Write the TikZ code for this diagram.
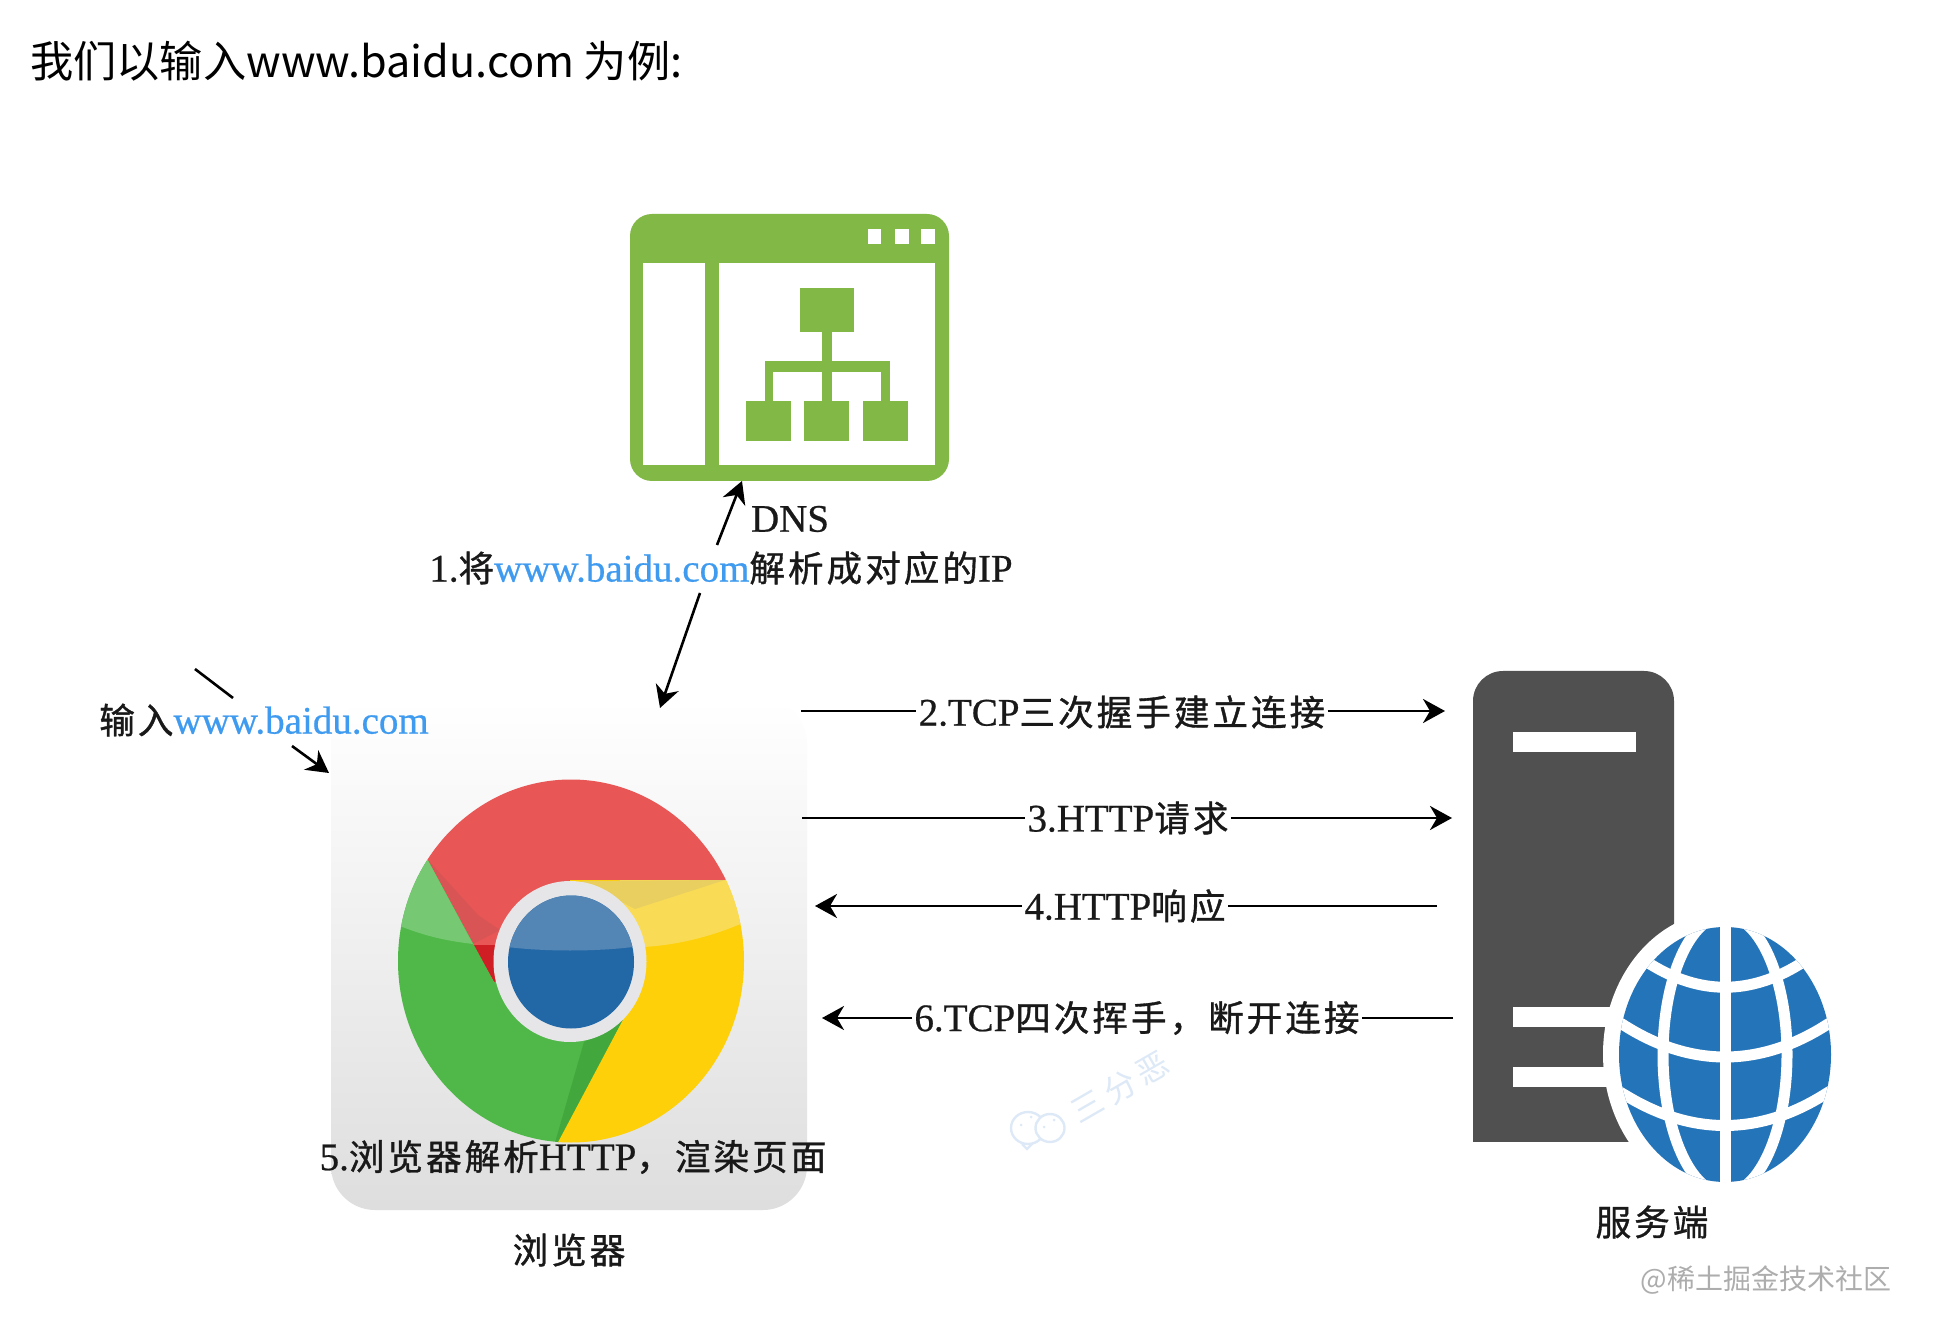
\documentclass[tikz,border=0pt]{standalone}
\usepackage{fontspec}
\usetikzlibrary{arrows.meta}
\setmainfont[FakeBold=0.6]{Liberation Serif}
\newfontfamily\cjk[LetterSpace=8.4,FakeBold=1]{Noto Sans CJK SC}
\newfontfamily\headfont{Noto Sans CJK SC}
\newcommand\zh[1]{{\cjk\fontsize{17.8pt}{19pt}\selectfont #1}}
\definecolor{linkblue}{HTML}{3F9BEF}
\definecolor{dnsgreen}{HTML}{82B846}
\definecolor{srvgray}{HTML}{505050}
\definecolor{globeblue}{HTML}{2474B9}
\definecolor{wmblue}{HTML}{DDE9F7}
\definecolor{cred}{HTML}{E85656}
\definecolor{credshade}{HTML}{D95555}
\definecolor{creddark}{HTML}{CF1F25}
\definecolor{cgreen}{HTML}{4FB848}
\definecolor{cgreenlt}{HTML}{76C872}
\definecolor{cgreendk}{HTML}{42A83E}
\definecolor{cyellow}{HTML}{FDD00A}
\definecolor{cyellowlt}{HTML}{FADB55}
\definecolor{cyellowdk}{HTML}{E8CF60}
\definecolor{cring}{HTML}{E6E6E8}
\definecolor{cblue}{HTML}{2268A6}
\definecolor{cbluelt}{HTML}{5385B5}
\tikzset{
  x=0.5pt,y=-0.5pt,
  lbl/.style={font=\fontsize{19.5pt}{19.5pt}\selectfont,inner sep=0pt,text=black!90},
  lblw/.style={lbl,fill=white,inner xsep=1pt},
  conn/.style={line width=1.3pt,black},
  arr/.style={conn,-{Stealth[length=11pt,width=12pt,inset=3.5pt]}},
  glb/.style={white,line width=5.5pt},
}
\begin{document}
\begin{tikzpicture}
\useasboundingbox (0,0) rectangle (1944,1336);
\fill[white] (0,0) rectangle (1944,1336);
% heading
\node[anchor=west,inner sep=0pt,font=\headfont\fontsize{21.6pt}{22pt}\selectfont] (head) at (30,61) {我们以输入www.baidu.com 为例:};
% DNS window
\fill[dnsgreen,rounded corners=11pt] (630,214) rectangle (949,481);
\fill[white] (643,263) rectangle (705,465);
\fill[white] (719,263) rectangle (935,465);
\foreach \a/\b in {868/881,895/909,921/935}{\fill[white] (\a,229) rectangle (\b,244);}
\fill[dnsgreen] (800,288) rectangle (854,332);
\fill[dnsgreen] (822,332) rectangle (832,401);
\fill[dnsgreen] (765,361) rectangle (890,372);
\fill[dnsgreen] (765,361) rectangle (773,401);
\fill[dnsgreen] (881,361) rectangle (890,401);
\fill[dnsgreen] (746,401) rectangle (791,441);
\fill[dnsgreen] (804,401) rectangle (849,441);
\fill[dnsgreen] (863,401) rectangle (908,441);
% browser panel
\shade[top color=white,middle color=black!4,bottom color=black!13,rounded corners=22pt] (331,700) rectangle (807,1210);
% chrome logo
\begin{scope}
\clip (571,961) ellipse [x radius=173,y radius=181.5];
\fill[cred] (379,770) -- (760,770) -- (760,880) -- (570,880) -- (570,960) -- (494,982) -- cycle;
\fill[credshade] (428,860) -- (473,944) -- (500,930) -- (478,915) -- cycle;
\fill[creddark] (473,945) -- (500,945) -- (500,985) -- (494,982) -- cycle;
\fill[cgreen] (340,770) -- (379,770) -- (494,982) -- (570,960) -- (624,1018) -- (538,1180) -- (340,1180) -- cycle;
\fill[cgreenlt] (379,770) -- (473,944) .. controls (440,940) and (420,935) .. (380,918) -- (340,900) -- (340,770) -- cycle;
\fill[cgreendk] (584,1042) -- (624,1018) -- (550,1160) -- cycle;
\fill[cyellow] (760,880) -- (570,880) -- (570,960) -- (624,1018) -- (538,1180) -- (760,1180) -- cycle;
\fill[cyellowlt] (760,880) -- (620,880) -- (620,950) -- (643,947) .. controls (680,945) and (720,935) .. (760,915) -- cycle;
\fill[cyellowdk] (581,881) -- (725,880) -- (635,909) -- cycle;
\end{scope}
\fill[cring] (570,961.5) ellipse [x radius=76.5,y radius=80.5];
\begin{scope}
\clip (571,962) ellipse [x radius=63,y radius=66.5];
\fill[cblue] (500,890) rectangle (640,1035);
\fill[cbluelt] (500,890) -- (640,890) -- (640,946) .. controls (600,952) and (540,952) .. (500,946) -- cycle;
\end{scope}
% server
\fill[srvgray,rounded corners=15pt] (1473,1200) -- (1473,671) -- (1674,671) -- (1674,1200) -- cycle;
\fill[white] (1440,1142) rectangle (1700,1210);
\fill[white] (1513,732) rectangle (1636,752);
\fill[white] (1513,1007) rectangle (1620,1027);
\fill[white] (1513,1067) rectangle (1620,1087);
% globe
\fill[white] (1725,1054) ellipse [x radius=122,y radius=143];
\begin{scope}
\clip (1725,1054.5) ellipse [x radius=106,y radius=127.5];
\fill[globeblue] (1610,920) rectangle (1840,1190);
\draw[glb] (1725,920) -- (1725,1190);
\draw[glb] (1725,1054.5) ellipse [x radius=62,y radius=139];
\draw[glb] (1640,957) -- (1650,964) .. controls (1700,995) and (1750,995) .. (1800,964) -- (1810,957);
\draw[glb] (1610,1017) -- (1622,1024) .. controls (1690,1068) and (1760,1068) .. (1828,1024) -- (1840,1017);
\draw[glb] (1613,1088) -- (1625,1095) .. controls (1692,1136) and (1760,1136) .. (1827,1093) -- (1839,1086);
\end{scope}
% wechat-style watermark
\begin{scope}[wmblue,line width=1.2pt]
\draw[fill=white] (1022,1144) -- (1027,1149) -- (1033,1143);
\draw[fill=white] (1028,1128) ellipse [x radius=17,y radius=16];
\draw[fill=white] (1050,1128) ellipse [x radius=14.5,y radius=14];
\fill (1021,1125) circle [radius=1.5];
\fill (1031,1117) circle [radius=1.5];
\fill (1044,1127) circle [radius=1.5];
\fill (1054,1120) circle [radius=1.5];
\end{scope}
\node[rotate=30,inner sep=0pt,text=wmblue,font=\headfont\fontsize{16pt}{16pt}\selectfont] (wm1) at (1120,1087) {\addfontfeature{LetterSpace=18}三分恶};
\node[inner sep=0pt,text=black!32,font=\headfont\fontsize{14pt}{15pt}\selectfont] (wm2) at (1766,1280) {@稀土掘金技术社区};
% labels
\node[lbl] (dnsl) at (790,519) {DNS};
\node[lbl] (l1) at (721,568) {1.\zh{将}\textcolor{linkblue}{www.baidu.com}\zh{解析成对应的}IP};
\node[lbl] (linp) at (264,720) {\zh{输入}\textcolor{linkblue}{www.baidu.com}};
\node[lblw] (l2) at (1122,712) {2.TCP\zh{三次握手建立连接}};
\node[lblw] (l3) at (1128,818) {3.HTTP\zh{请求}};
\node[lblw] (l4) at (1125,906) {4.HTTP\zh{响应}};
\node[lblw] (l6) at (1137,1018) {6.TCP\zh{四次挥手，断开连接}};
\node[lbl] (l5) at (573,1157) {5.\zh{浏览器解析}HTTP\zh{，渲染页面}};
\node[lbl] (lbrowser) at (569,1250) {\zh{浏览器}};
\node[lbl] (lserver) at (1652,1222) {\zh{服务端}};
% connector ends
\coordinate (a1a) at (717,545);
\coordinate (a1b) at (742,481);
\coordinate (a1c) at (700,593);
\coordinate (a1d) at (660,708);
\coordinate (i1) at (195,669);
\coordinate (i2) at (233,698);
\coordinate (i3) at (292,746);
\coordinate (i4) at (329,773);
\coordinate (s2) at (801,711);
\coordinate (e2) at (1445,711);
\coordinate (s3) at (802,818);
\coordinate (e3) at (1452,818);
\coordinate (s4) at (1437,906);
\coordinate (e4) at (815,906);
\coordinate (s6) at (1453,1018);
\coordinate (e6) at (822,1018);
% connectors
\draw[arr] (a1a) -- (a1b);
\draw[arr] (a1c) -- (a1d);
\draw[conn] (i1) -- (i2);
\draw[arr] (i3) -- (i4);
\draw[conn] (s2) -- (s2 -| l2.west);
\draw[arr] (s2 -| l2.east) -- (e2);
\draw[conn] (s3) -- (s3 -| l3.west);
\draw[arr] (s3 -| l3.east) -- (e3);
\draw[conn] (s4) -- (s4 -| l4.east);
\draw[arr] (s4 -| l4.west) -- (e4);
\draw[conn] (s6) -- (s6 -| l6.east);
\draw[arr] (s6 -| l6.west) -- (e6);
\end{tikzpicture}
\end{document}
